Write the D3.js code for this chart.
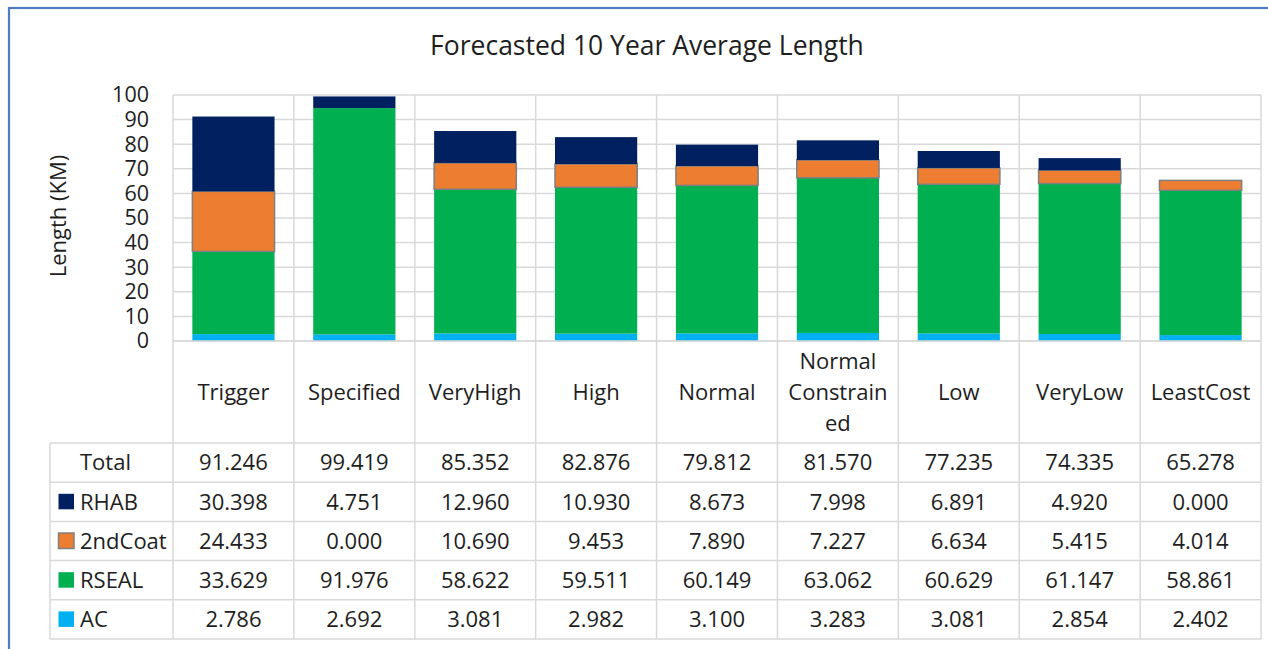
<!DOCTYPE html>
<html>
<head>
<meta charset="utf-8">
<script src="https://cdn.jsdelivr.net/npm/d3@7"></script>
<style>
  html, body { margin: 0; padding: 0; background: #fff; }
  svg { display: block; font-family: "Open Sans", "DejaVu Sans", sans-serif; }
</style>
</head>
<body>
<svg id="chart" width="1268" height="649"></svg>
<script>
// Scenario categories (x axis / table columns)
const categories = ["Trigger", "Specified", "VeryHigh", "High", "Normal",
                    "Normal Constrained", "Low", "VeryLow", "LeastCost"];

// Series values in km, stacked bottom to top: AC, RSEAL, 2ndCoat, RHAB
const ac      = [2.786, 2.692, 3.081, 2.982, 3.100, 3.283, 3.081, 2.854, 2.402];
const rseal   = [33.629, 91.976, 58.622, 59.511, 60.149, 63.062, 60.629, 61.147, 58.861];
const secondCoat = [24.433, 0.000, 10.690, 9.453, 7.890, 7.227, 6.634, 5.415, 4.014];
const rhab    = [30.398, 4.751, 12.960, 10.930, 8.673, 7.998, 6.891, 4.920, 0.000];
const totals  = [91.246, 99.419, 85.352, 82.876, 79.812, 81.570, 77.235, 74.335, 65.278];

// Y axis ticks
const yTicks = [0, 10, 20, 30, 40, 50, 60, 70, 80, 90, 100];

const seriesNames = ["AC", "RSEAL", "2ndCoat", "RHAB"];
const seriesColors = { "AC": "#00b0f0", "RSEAL": "#00b050", "2ndCoat": "#ed7d31", "RHAB": "#002060" };

const textColor = "#1e1e1e";
const svg = d3.select("#chart");

// Outer chart frame
svg.append("rect")
  .attr("x", 9).attr("y", 8).attr("width", 1400).attr("height", 800)
  .attr("fill", "none").attr("stroke", "#4f7ac7").attr("stroke-width", 2.2);

// Title
svg.append("text")
  .attr("x", 647).attr("y", 55)
  .attr("text-anchor", "middle")
  .attr("font-size", 26.5)
  .attr("fill", textColor)
  .text("Forecasted 10 Year Average Length");

// Plot region
const plot = { left: 173, right: 1261, top: 95, bottom: 341 };
const x = d3.scaleBand().domain(categories).range([plot.left, plot.right]).paddingInner(0).paddingOuter(0);
const y = d3.scaleLinear().domain([0, 100]).range([plot.bottom, plot.top]);
const barW = x.bandwidth() * 0.68;

const gridColor = "#d9d9d9";

// Horizontal gridlines
svg.append("g").selectAll("line").data(yTicks).join("line")
  .attr("x1", plot.left).attr("x2", plot.right)
  .attr("y1", d => y(d)).attr("y2", d => y(d))
  .attr("stroke", gridColor).attr("stroke-width", 1.5);

// Vertical gridlines at category boundaries (continued into the data table)
const table = { labelLeft: 50, headerBottom: 443, rowH: 39.2 };
const rowNames = ["Total", "RHAB", "2ndCoat", "RSEAL", "AC"];
const rowValues = [totals, rhab, secondCoat, rseal, ac];
const tableBottom = table.headerBottom + table.rowH * rowNames.length;

const bounds = categories.map(c => x(c)).concat([plot.right]);
svg.append("g").selectAll("line").data(bounds).join("line")
  .attr("x1", d => d).attr("x2", d => d)
  .attr("y1", plot.top).attr("y2", tableBottom)
  .attr("stroke", gridColor).attr("stroke-width", 1.5);

// Y axis tick labels
const yAxis = d3.axisLeft(y).tickValues(yTicks).tickSize(0).tickPadding(0);
const yg = svg.append("g").attr("transform", `translate(${149},0)`).call(yAxis);
yg.select(".domain").remove();
yg.selectAll("text")
  .attr("font-size", 21.5).attr("fill", textColor)
  .attr("font-family", "\"Open Sans\", sans-serif");

// Y axis title
svg.append("text")
  .attr("transform", `translate(66,${216}) rotate(-90)`)
  .attr("text-anchor", "middle")
  .attr("font-size", 22)
  .attr("fill", textColor)
  .text("Length (KM)");

// Stacked bars
const rows = categories.map((c, i) => ({ cat: c, "AC": ac[i], "RSEAL": rseal[i], "2ndCoat": secondCoat[i], "RHAB": rhab[i] }));
const stacked = d3.stack().keys(seriesNames)(rows);

svg.append("g").selectAll("g").data(stacked).join("g")
  .attr("fill", d => seriesColors[d.key])
  .each(function (s) {
    const outlined = s.key === "2ndCoat";
    d3.select(this).selectAll("rect").data(s.filter(d => d[1] - d[0] > 0)).join("rect")
      .attr("x", d => x(d.data.cat) + (x.bandwidth() - barW) / 2)
      .attr("width", barW)
      .attr("y", d => y(d[1]))
      .attr("height", d => y(d[0]) - y(d[1]))
      .attr("stroke", outlined ? "#7f7f7f" : "none")
      .attr("stroke-width", outlined ? 1.5 : 0);
  });

// Data table: horizontal rules
const hLines = [plot.bottom];
for (let r = 0; r <= rowNames.length; r++) hLines.push(table.headerBottom + r * table.rowH);
svg.append("g").selectAll("line").data(hLines).join("line")
  .attr("x1", (d, i) => i === 0 ? plot.left : table.labelLeft)
  .attr("x2", plot.right)
  .attr("y1", d => d).attr("y2", d => d)
  .attr("stroke", gridColor).attr("stroke-width", 1.5);

// Left border of the row-label column
svg.append("line")
  .attr("x1", table.labelLeft).attr("x2", table.labelLeft)
  .attr("y1", table.headerBottom).attr("y2", tableBottom)
  .attr("stroke", gridColor).attr("stroke-width", 1.5);

// Category header labels, wrapped to the column width
const headerG = svg.append("g");
const maxW = x.bandwidth() - 14;
categories.forEach(c => {
  const t = headerG.append("text")
    .attr("font-size", 22).attr("fill", textColor)
    .attr("text-anchor", "middle");
  // build lines: split on spaces, break long words by characters
  const lines = [];
  c.split(" ").forEach(word => {
    let cur = "";
    for (const ch of word) {
      t.text(cur + ch);
      if (cur && t.node().getComputedTextLength() > maxW) { lines.push(cur); cur = ch; }
      else cur += ch;
    }
    lines.push(cur);
  });
  t.text(null);
  const cx = x(c) + x.bandwidth() / 2;
  const cy = (plot.bottom + table.headerBottom) / 2;
  const lh = 31;
  lines.forEach((ln, i) => {
    t.append("tspan")
      .attr("x", cx)
      .attr("y", cy + (i - (lines.length - 1) / 2) * lh)
      .attr("dy", "0.35em")
      .text(ln);
  });
});

// Row labels with legend keys
const rowG = svg.append("g");
rowNames.forEach((name, r) => {
  const cy = table.headerBottom + r * table.rowH + table.rowH / 2;
  if (seriesColors[name]) {
    rowG.append("rect")
      .attr("x", 58.5).attr("y", cy - 8).attr("width", 15.5).attr("height", 15.5)
      .attr("fill", seriesColors[name])
      .attr("stroke", name === "2ndCoat" ? "#7f7f7f" : "none")
      .attr("stroke-width", 1.5);
  }
  rowG.append("text")
    .attr("x", 80).attr("y", cy).attr("dy", "0.35em")
    .attr("font-size", 22).attr("fill", textColor)
    .text(name);
});

// Table values
const valG = svg.append("g");
rowValues.forEach((vals, r) => {
  const cy = table.headerBottom + r * table.rowH + table.rowH / 2;
  valG.selectAll(null).data(vals).join("text")
    .attr("x", (d, i) => x(categories[i]) + x.bandwidth() / 2)
    .attr("y", cy).attr("dy", "0.35em")
    .attr("text-anchor", "middle")
    .attr("font-size", 22).attr("fill", textColor)
    .text(d => d3.format(".3f")(d));
});
</script>
</body>
</html>
